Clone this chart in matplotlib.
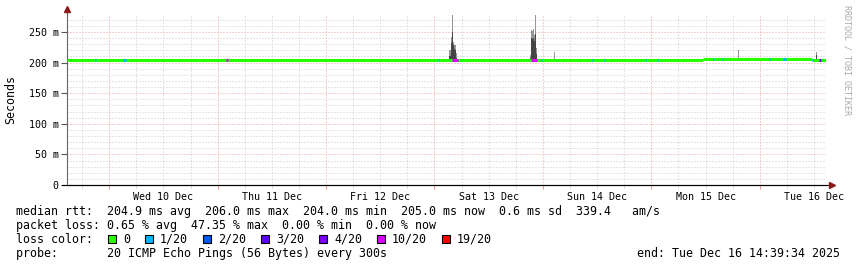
import datetime as dt
import matplotlib
matplotlib.use("Agg")
import matplotlib.pyplot as plt
from matplotlib.lines import Line2D
from matplotlib.patches import Rectangle

MONO = "DejaVu Sans Mono"
W, H = 857, 267

# time axis: 7 days ending at the "end:" stamp, x in hours since start
start = dt.datetime(2025, 12, 9, 14, 39, 34)
span_h = 168.0

# median rtt (ms), piecewise constant
median_t = [0.0, 140.7, 164.8, 168.0]
median_ms = [204.4, 206.3, 204.8]

# loss events: start hour, duration hour, loss class index
loss_t = [6.3, 12.5, 35.2, 47.7, 82.1, 85.3, 102.7, 105.0, 116.1, 118.8,
          127.9, 130.5, 142.9, 144.9, 155.3, 158.5, 165.0, 166.5]
loss_w = [0.22, 0.66, 0.44, 0.22, 0.22, 1.3, 1.3, 0.22, 0.22, 0.22,
          0.22, 0.22, 0.22, 0.22, 0.22, 0.66, 0.22, 0.3]
loss_cls = [1, 1, 5, 1, 1, 5, 5, 1, 1, 1, 1, 1, 1, 1, 1, 1, 1, 4]

loss_labels = ["0", "1/20", "2/20", "3/20", "4/20", "10/20", "19/20"]
loss_colors = ["#26ff00", "#00b8ff", "#0059ff", "#5e00ff", "#7e00ff", "#dd00ff", "#ff0000"]

# smoke: hour, max ping (ms), inner quantile (ms)
smoke_t = [84.7, 84.9, 85.1, 85.3, 85.6, 85.8, 86.0, 86.2,
           102.6, 102.8, 103.0, 103.2, 103.5, 103.7, 103.9,
           108.0, 148.7, 165.8]
smoke_hi = [220, 220, 242, 278, 233, 229, 229, 215,
            212, 253, 252, 255, 245, 278, 224,
            218, 220, 217]
smoke_mid = [210, 210, 232, 250, 228, 222, 220, 208,
             208, 240, 238, 240, 236, 246, 214,
             206, 207, 212]

stats_rtt = "median rtt:  204.9 ms avg  206.0 ms max  204.0 ms min  205.0 ms now  0.6 ms sd  339.4   am/s"
stats_loss = "packet loss: 0.65 % avg  47.35 % max  0.00 % min  0.00 % now"
probe_txt = "probe:       20 ICMP Echo Pings (56 Bytes) every 300s"
end_txt = "end: " + start.replace(day=16).strftime("%a %b %d %H:%M:%S %Y")


def median_at(h):
    for i in range(len(median_ms)):
        if median_t[i] <= h < median_t[i + 1]:
            return median_ms[i]
    return median_ms[-1]


fig = plt.figure(figsize=(W / 100, H / 100), dpi=100)
fig.patch.set_facecolor("white")
y_top = 280.0
ax = fig.add_axes([67 / W, (H - 185) / H, (826 - 67) / W, (185 - 13.6) / H])
ax.set_xlim(0, span_h)
ax.set_ylim(0, y_top)

# smoke
bw = 0.23
for t, hi, mid in zip(smoke_t, smoke_hi, smoke_mid):
    base = median_at(t)
    ax.bar(t, hi - base, bottom=base, width=bw, color="#959595", lw=0, zorder=2)
    ax.bar(t, mid - base, bottom=base, width=bw, color="#454545", lw=0, zorder=2.1)

# median line (loss 0 colour) then loss colouring
lw_med = 2.2
for i in range(len(median_ms)):
    ax.hlines(median_ms[i], median_t[i], median_t[i + 1], color=loss_colors[0],
              lw=lw_med, zorder=3)
for t, w, c in zip(loss_t, loss_w, loss_cls):
    ax.hlines(median_at(t), t, t + w, color=loss_colors[c], lw=lw_med, zorder=3.1)

# x ticks: day boundaries (major), every 6 h (minor), labels at noon
day0 = dt.datetime(2025, 12, 10)
major_x, minor_x, minor_lab = [], [], []
for d in range(7):
    day = day0 + dt.timedelta(days=d)
    major_x.append((day - start).total_seconds() / 3600)
for k in range(-1, 28):
    t = day0 + dt.timedelta(hours=6 * k)
    h = (t - start).total_seconds() / 3600
    if 0 < h < span_h and t.hour != 0:
        minor_x.append(h)
        minor_lab.append(t.strftime("%a %d %b") if t.hour == 12 else "")
ax.set_xticks(major_x)
ax.set_xticklabels([])
ax.set_xticks(minor_x, labels=minor_lab, minor=True)

ax.set_yticks(range(0, 251, 50))
ax.set_yticklabels(["0" if v == 0 else "%d m" % v for v in range(0, 251, 50)])
ax.set_yticks([v for v in range(10, 280, 10) if v % 50], minor=True)

ax.grid(which="major", color="#f0a0a0", linestyle=(0, (1, 2)), lw=0.72)
ax.grid(which="minor", color="#cccccc", linestyle=(0, (1, 2)), lw=0.72)
ax.set_axisbelow(True)

ax.tick_params(axis="both", which="both", labelsize=7.2, colors="black")
ax.tick_params(axis="x", which="major", length=3, color="#f0a0a0", pad=2)
ax.tick_params(axis="x", which="minor", length=2, color="#cccccc", pad=3)
ax.tick_params(axis="y", which="major", length=4, color="#555555", pad=2)
ax.tick_params(axis="y", which="minor", length=0)
for lab in ax.get_xticklabels(minor=True) + ax.get_yticklabels():
    lab.set_family(MONO)

for s in ["top", "right"]:
    ax.spines[s].set_visible(False)
ax.spines["left"].set_color("#666666")
ax.spines["bottom"].set_color("black")

# axis extensions and arrows
ax.add_line(Line2D([0, 0], [1, 1.02], transform=ax.transAxes, color="#666666",
                   lw=0.8, clip_on=False))
ax.add_line(Line2D([-0.006, 1.007], [0, 0], transform=ax.transAxes, color="black",
                   lw=0.8, clip_on=False))
ax.plot([0], [1.025], marker="^", ms=4, color="#8b1a1a", transform=ax.transAxes,
        clip_on=False)
ax.plot([1.008], [0], marker=">", ms=4, color="#8b1a1a", transform=ax.transAxes,
        clip_on=False)

fig.text(10.5 / W, (H - 99) / H, "Seconds", rotation=90, ha="center", va="center",
         family=MONO, fontsize=8.4)
fig.text(847 / W, (H - 60) / H, "RRDTOOL / TOBI OETIKER", rotation=-90, ha="center",
         va="center", family=MONO, fontsize=6, color="#aaaaaa")

# legend block
fig.text(16 / W, (H - 215) / H, stats_rtt, family=MONO, fontsize=8.4)
fig.text(16 / W, (H - 229) / H, stats_loss, family=MONO, fontsize=8.4)
fig.text(16 / W, (H - 243) / H, "loss color:", family=MONO, fontsize=8.4)
fig.text(16 / W, (H - 257) / H, probe_txt, family=MONO, fontsize=8.4)
fig.text(840 / W, (H - 257) / H, end_txt, family=MONO, fontsize=8.4, ha="right")

bx = 108
for lab, col in zip(loss_labels, loss_colors):
    fig.add_artist(Rectangle((bx / W, (H - 243) / H), 8 / W, 8 / H,
                             transform=fig.transFigure, facecolor=col,
                             edgecolor="black", lw=0.8))
    fig.text((bx + 15) / W, (H - 243) / H, lab, family=MONO, fontsize=8.4)
    bx += 15 + 7 * len(lab) + 15

fig.savefig("out.png", dpi=100)
